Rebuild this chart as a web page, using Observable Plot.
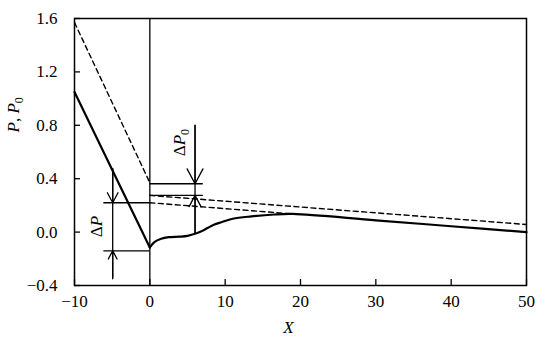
<!DOCTYPE html>
<html><head><meta charset="utf-8">
<script src="https://cdn.jsdelivr.net/npm/d3@7"></script>
<script src="https://cdn.jsdelivr.net/npm/@observablehq/plot@0.6"></script>
<style>
body{margin:0;background:#fff}
#chart svg text{font-family:"Liberation Serif","Times New Roman",serif;font-size:17px;fill:#000}
</style>
</head><body><div id="chart"></div>
<script>
// axes
const xTicks = [-10, 0, 10, 20, 30, 40, 50];
const yTicks = [-0.4, 0, 0.4, 0.8, 1.2, 1.6];
const xLabel = "X";
const yLabel = "P, P0";

// solid curve P
const solidLeftX = [-10, 0];
const solidLeftP = [1.05, -0.115];
const solidRightX = [0, 0.6, 1.5, 2.5, 4, 5, 6, 7, 7.7, 8.5, 9.5, 11, 13.5, 16.5, 19, 30, 40, 50];
const solidRightP = [-0.115, -0.075, -0.05, -0.038, -0.034, -0.028, -0.012, 0.01, 0.032, 0.055, 0.074, 0.1, 0.118, 0.132, 0.136, 0.088, 0.044, 0.0];

// dashed curves P0
const dashLeftX = [-10, 0];
const dashLeftP = [1.57, 0.37];
const dashUpperX = [0, 50];
const dashUpperP = [0.275, 0.057];
const dashLowerX = [0, 19];
const dashLowerP = [0.22, 0.136];

// annotations (ΔP, ΔP0)
const annotLabel = ["ΔP", "ΔP0"];
const annotX = [-4.93, 6.0];
const annotTop = [0.475, 0.8];
const annotBottom = [-0.35, -0.01];
const annotHigh = [0.22, 0.362];
const annotLow = [-0.14, 0.275];
const annotRuleX1 = [-6.1, 0];
const annotRuleX2 = [0, 7.1];
const annotTextX = [-7.13, 3.9];
const annotTextP = [0.042, 0.67];

const zip = (xs, ys) => xs.map((x, i) => ({x, y: ys[i]}));
const annots = annotLabel.map((label, i) => ({
  label, x: annotX[i], top: annotTop[i], bottom: annotBottom[i],
  high: annotHigh[i], low: annotLow[i], x1: annotRuleX1[i], x2: annotRuleX2[i],
  tx: annotTextX[i], ty: annotTextP[i]
}));
const rules = annots.flatMap(a => [{x1: a.x1, x2: a.x2, y: a.high}, {x1: a.x1, x2: a.x2, y: a.low}]);
const arrows = annots.flatMap(a => [
  {x1: a.x, y1: a.top, x2: a.x, y2: a.high},
  {x1: a.x, y1: a.bottom, x2: a.x, y2: a.low}
]);

const W = 550, H = 354, mL = 74, mR = 24, mT = 18, mB = 69;
const frameW = W - mL - mR, frameH = H - mT - mB;
const dashStyle = {stroke: "black", strokeWidth: 1.4, strokeDasharray: "5,3.5"};

const chart = Plot.plot({
  width: W, height: H,
  marginLeft: mL, marginRight: mR, marginTop: mT, marginBottom: mB,
  style: {fontFamily: "Liberation Serif", fontSize: "17px", color: "black", background: "white"},
  x: {domain: [-10, 50], ticks: xTicks, tickSize: 0, tickPadding: 9, tickFormat: d3.format("d"), label: null},
  y: {domain: [-0.4, 1.6], ticks: yTicks, tickSize: 0, tickPadding: 17, tickFormat: d3.format(".1f"), label: null},
  marks: [
    Plot.tickX(xTicks, {x: d => d, stroke: "black", strokeWidth: 1.3, insetTop: frameH - 6}),
    Plot.tickY(yTicks, {y: d => d, stroke: "black", strokeWidth: 1.3, insetRight: frameW - 6}),
    Plot.ruleX([0], {x: d => d, stroke: "black", strokeWidth: 1.3}),
    Plot.line(zip(dashLeftX, dashLeftP), {x: "x", y: "y", ...dashStyle}),
    Plot.line(zip(dashUpperX, dashUpperP), {x: "x", y: "y", ...dashStyle}),
    Plot.line(zip(dashLowerX, dashLowerP), {x: "x", y: "y", ...dashStyle}),
    Plot.line(zip(solidLeftX, solidLeftP), {x: "x", y: "y", stroke: "black", strokeWidth: 2.2}),
    Plot.line(zip(solidRightX, solidRightP), {x: "x", y: "y", stroke: "black", strokeWidth: 2.2, curve: "catmull-rom"}),
    Plot.ruleX(annots, {x: "x", y1: "top", y2: "bottom", stroke: "black", strokeWidth: 1.3}),
    Plot.ruleY(rules, {y: "y", x1: "x1", x2: "x2", stroke: "black", strokeWidth: 1.3}),
    Plot.arrow(arrows, {x1: "x1", y1: "y1", x2: "x2", y2: "y2", stroke: "black", strokeWidth: 1.3, headLength: 19.5, headAngle: 56}),
    Plot.text(annots, {x: "tx", y: "ty", text: "label", rotate: -90, fill: "black"}),
    Plot.text([xLabel], {frameAnchor: "bottom", x: () => 18.4, text: d => d, dy: 47, fontStyle: "italic", fill: "black"}),
    Plot.text([yLabel], {frameAnchor: "left", y: () => 0.746, text: d => d, dx: -61, rotate: -90, fill: "black"}),
    Plot.frame({stroke: "black", strokeWidth: 1.5})
  ]
});
document.getElementById("chart").appendChild(chart);

// rich text: italic P and subscript 0
chart.querySelectorAll("text").forEach(el => {
  const t = el.textContent;
  const sub = '<tspan dy="4" style="font-size:12px">0</tspan>';
  if (t === "P, P0") {
    el.innerHTML = '<tspan font-style="italic">P</tspan>, <tspan font-style="italic">P</tspan>' + sub;
  } else if (t === "ΔP0") {
    el.innerHTML = 'Δ<tspan font-style="italic">P</tspan>' + sub;
  } else if (t === "ΔP") {
    el.innerHTML = 'Δ<tspan font-style="italic">P</tspan>';
  }
});
</script>
</body></html>
